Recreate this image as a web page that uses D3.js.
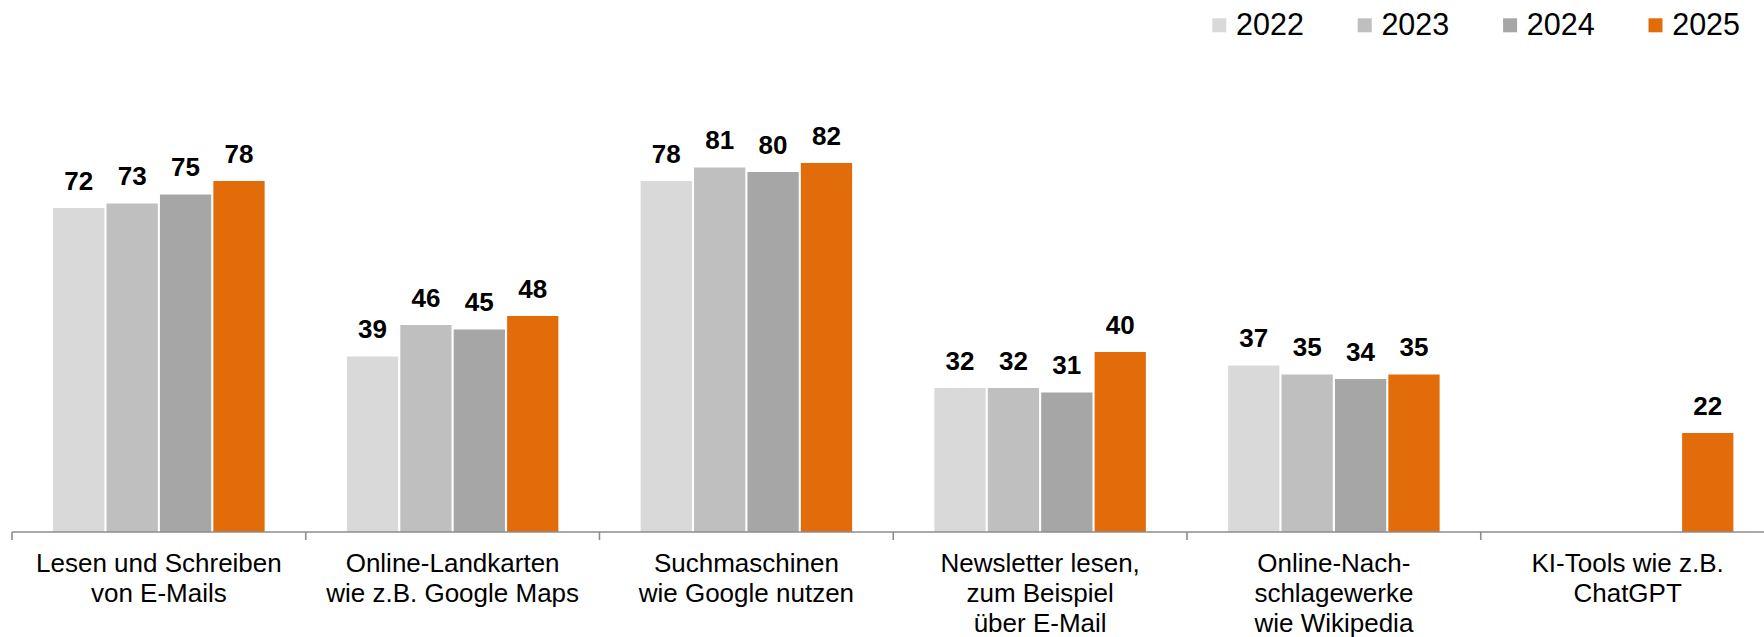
<!DOCTYPE html>
<html>
<head>
<meta charset="utf-8">
<script src="https://cdn.jsdelivr.net/npm/d3@7"></script>
<style>
  html, body { margin: 0; padding: 0; background: #fff; }
  svg { display: block; font-family: "Liberation Sans", Arial, sans-serif; }
</style>
</head>
<body>
<svg id="chart" width="1764" height="637"></svg>
<script>
const categories = [
  ["Lesen und Schreiben", "von E-Mails"],
  ["Online-Landkarten", "wie z.B. Google Maps"],
  ["Suchmaschinen", "wie Google nutzen"],
  ["Newsletter lesen,", "zum Beispiel", "über E-Mail"],
  ["Online-Nach-", "schlagewerke", "wie Wikipedia"],
  ["KI-Tools wie z.B.", "ChatGPT"]
];
const years = ["2022", "2023", "2024", "2025"];
const values2022 = [72, 39, 78, 32, 37, null];
const values2023 = [73, 46, 81, 32, 35, null];
const values2024 = [75, 45, 80, 31, 34, null];
const values2025 = [78, 48, 82, 40, 35, 22];
const colors = ["#d9d9d9", "#bfbfbf", "#a6a6a6", "#e36c0a"];

const series = [values2022, values2023, values2024, values2025];
const catKeys = categories.map((c, i) => "c" + i);

const svg = d3.select("#chart");
const baseY = 532;

const x0 = d3.scaleBand().domain(catKeys).range([12, 1774.5]).paddingInner(0).paddingOuter(0);
const x1 = d3.scaleBand().domain(years).range([0, x0.bandwidth()]).paddingInner(0.04).paddingOuter(0.77);
const y = d3.scaleLinear().domain([0, 100]).range([baseY, baseY - 450]);

// bars
const groups = svg.append("g").selectAll("g")
  .data(catKeys)
  .join("g")
  .attr("transform", d => `translate(${x0(d)},0)`);

groups.each(function(ck, ci) {
  const g = d3.select(this);
  const data = years.map((yr, si) => ({ yr, si, v: series[si][ci] })).filter(d => d.v != null);
  g.selectAll("rect").data(data).join("rect")
    .attr("x", d => x1(d.yr))
    .attr("width", x1.bandwidth())
    .attr("y", d => y(d.v))
    .attr("height", d => y(0) - y(d.v))
    .attr("fill", d => colors[d.si]);
  g.selectAll("text.val").data(data).join("text")
    .attr("class", "val")
    .attr("x", d => x1(d.yr) + x1.bandwidth() / 2)
    .attr("y", d => y(d.v) - 18.5)
    .attr("text-anchor", "middle")
    .attr("font-size", 26)
    .attr("font-weight", "bold")
    .attr("fill", "#000")
    .text(d => d.v);
});

// axis
const axisG = svg.append("g");
axisG.append("line")
  .attr("x1", x0.range()[0]).attr("x2", x0.range()[1])
  .attr("y1", baseY).attr("y2", baseY)
  .attr("stroke", "#8c8c8c").attr("stroke-width", 1.6);
const tickXs = catKeys.map(k => x0(k)).concat([x0.range()[1]]);
axisG.selectAll("line.tick").data(tickXs).join("line")
  .attr("class", "tick")
  .attr("x1", d => d).attr("x2", d => d)
  .attr("y1", baseY).attr("y2", baseY + 8)
  .attr("stroke", "#8c8c8c").attr("stroke-width", 1.6);

// category labels
const labG = svg.append("g");
catKeys.forEach((k, i) => {
  const t = labG.append("text")
    .attr("x", x0(k) + x0.bandwidth() / 2)
    .attr("y", 571.7)
    .attr("text-anchor", "middle")
    .attr("font-size", 26)
    .attr("fill", "#000");
  categories[i].forEach((line, li) => {
    t.append("tspan")
      .attr("x", x0(k) + x0.bandwidth() / 2)
      .attr("y", 571.7 + li * 30)
      .text(line);
  });
});

// legend
const legendX = d3.scaleBand().domain(years).range([1212.3, 1212.3 + 4 * 145.4]);
const leg = svg.append("g").selectAll("g").data(years).join("g")
  .attr("transform", d => `translate(${legendX(d)},0)`);
leg.append("rect")
  .attr("x", 0).attr("y", 18.3).attr("width", 14).attr("height", 14)
  .attr("fill", (d, i) => colors[i]);
leg.append("text")
  .attr("x", 23.7).attr("y", 35)
  .attr("font-size", 30.5)
  .attr("fill", "#000")
  .text(d => d);
</script>
</body>
</html>
